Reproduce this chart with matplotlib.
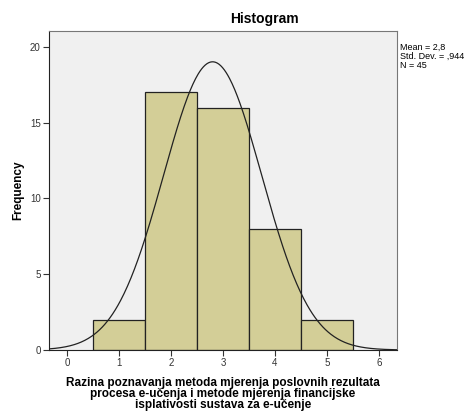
import numpy as np
import matplotlib.pyplot as plt

plt.rcParams['font.family'] = ['Liberation Sans', 'DejaVu Sans']

# histogram data (SPSS output)
categories = [1, 2, 3, 4, 5]
counts = [2, 17, 16, 8, 2]
mean = 2.8
std_dev = 0.944
n = 45
x_ticks = [0, 1, 2, 3, 4, 5, 6]
y_ticks = [0, 5, 10, 15, 20]

fig = plt.figure(figsize=(4.68, 4.12), dpi=100)
ax = fig.add_axes([0.1047, 0.1505, 0.7436, 0.7743])
ax.set_facecolor('#F0F0F0')

ax.bar(categories, counts, width=1.0, color='#D3CE97', edgecolor='#222222', linewidth=0.9, zorder=2)

# fitted normal curve scaled to counts
xs = np.linspace(-0.35, 6.35, 400)
ys = n * 1.0 / (std_dev * np.sqrt(2 * np.pi)) * np.exp(-0.5 * ((xs - mean) / std_dev) ** 2)
ax.plot(xs, ys, color='#222222', linewidth=0.9, zorder=3)

ax.set_xlim(-0.35, 6.35)
ax.set_ylim(0, 21.05)
ax.set_xticks(x_ticks)
ax.set_yticks(y_ticks)
ax.tick_params(labelsize=7, length=4, width=0.8, colors='#333333', pad=2)
for s in ax.spines.values():
    s.set_color('#777777')
    s.set_linewidth(0.8)
ax.spines['left'].set_color('#222222')
ax.spines['bottom'].set_color('#222222')

ax.set_ylabel('Frequency', fontsize=8.5, fontweight='bold', labelpad=4)
ax.set_xlabel('Razina poznavanja metoda mjerenja poslovnih rezultata\n'
              'procesa e-učenja i metode mjerenja financijske\n'
              'isplativosti sustava za e-učenje',
              fontsize=8.5, fontweight='bold', linespacing=0.9, labelpad=6)

fig.text(0.564, 0.955, 'Histogram', ha='center', va='center', fontsize=10, fontweight='bold')
fig.text(0.855, 0.895, 'Mean = 2,8\nStd. Dev. = ,944\nN = 45', ha='left', va='top',
         fontsize=6.5, linespacing=0.95)

plt.savefig('out.png', dpi=100)
